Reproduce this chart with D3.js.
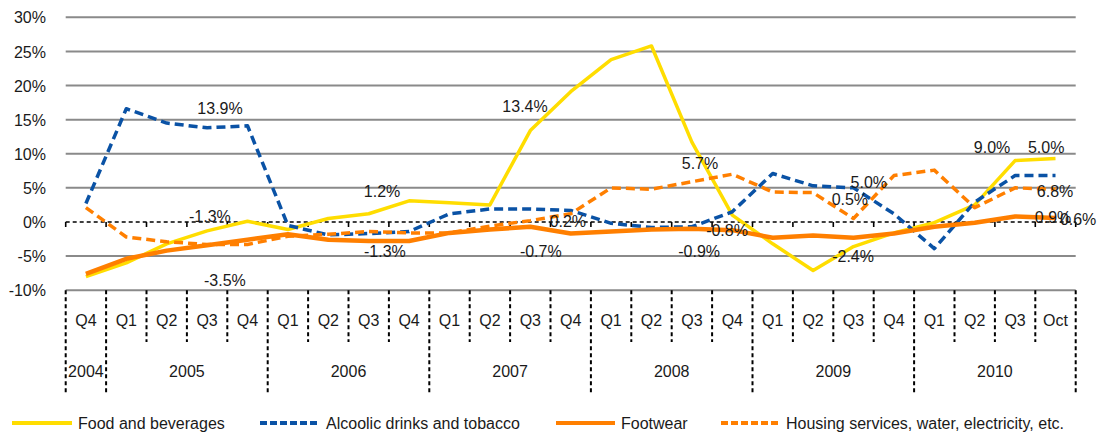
<!DOCTYPE html>
<html>
<head>
<meta charset="utf-8">
<script src="https://cdn.jsdelivr.net/npm/d3@7"></script>
<style>
  html, body { margin: 0; padding: 0; background: #fff; }
  svg { display: block; font-family: "Liberation Sans", Arial, Helvetica, sans-serif; }
</style>
</head>
<body>
<svg id="chart" width="1099" height="434"></svg>
<script>
// ---------- data ----------
const categories = [
  "2004 Q4",
  "2005 Q1","2005 Q2","2005 Q3","2005 Q4",
  "2006 Q1","2006 Q2","2006 Q3","2006 Q4",
  "2007 Q1","2007 Q2","2007 Q3","2007 Q4",
  "2008 Q1","2008 Q2","2008 Q3","2008 Q4",
  "2009 Q1","2009 Q2","2009 Q3","2009 Q4",
  "2010 Q1","2010 Q2","2010 Q3","2010 Oct"
];
const periodLabels = [
  "Q4",
  "Q1","Q2","Q3","Q4",
  "Q1","Q2","Q3","Q4",
  "Q1","Q2","Q3","Q4",
  "Q1","Q2","Q3","Q4",
  "Q1","Q2","Q3","Q4",
  "Q1","Q2","Q3","Oct"
];
const years = ["2004","2005","2006","2007","2008","2009","2010"];
const yearCounts = [1,4,4,4,4,4,4];

const seriesNames = [
  "Food and beverages",
  "Alcoolic drinks and tobacco",
  "Footwear",
  "Housing services, water, electricity, etc."
];
const food = [-8.0, -6.0,-3.2,-1.3,0.1, -1.1,0.5,1.2,3.1, 2.8,2.5,13.4,19.1, 23.8,25.8,11.7,1.0, -3.2,-7.1,-3.6,-1.6, -0.1,2.5,9.0,9.3];
const alcohol = [2.7, 16.6,14.5,13.8,14.1, -0.5,-1.9,-1.7,-1.4, 1.2,1.9,1.9,1.7, -0.2,-0.8,-0.7,1.5, 7.1,5.3,5.0,1.2, -3.9,2.9,6.8,6.8];
const footwear = [-7.6, -5.4,-4.2,-3.4,-2.6, -1.8,-2.6,-2.8,-2.8, -1.6,-1.1,-0.7,-1.7, -1.4,-1.1,-1.0,-1.2, -2.3,-2.0,-2.3,-1.7, -0.7,-0.1,0.8,0.6];
const housing = [2.1, -2.2,-2.9,-3.3,-3.3, -2.1,-1.8,-1.4,-1.6, -1.6,-0.6,0.2,1.2, 5.0,4.8,5.9,7.0, 4.4,4.3,0.5,6.8, 7.6,2.1,5.0,4.8];

const yTicks = [-10,-5,0,5,10,15,20,25,30];

// data labels: text, anchor in category-index units and value units
const labelTexts  = ["13.9%","-1.3%","-3.5%","1.2%","-1.3%","13.4%","-0.7%","0.2%","5.7%","-0.9%","-0.8%","5.0%","0.5%","-2.4%","9.0%","5.0%","6.8%","0.9%","0.6%"];
const labelIdx    = [3.32, 3.07, 3.44, 7.33, 7.40, 10.87, 11.26, 11.93, 15.20, 15.18, 15.87, 19.38, 18.91, 18.99, 22.43, 23.77, 23.99, 23.94, 24.56];
const labelVal    = [16.67, 0.84, -8.5, 4.5, -4.29, 16.96, -4.29, 0.1, 8.61, -4.29, -1.21, 5.87, 3.33, -5.02, 11.0, 11.0, 4.55, 0.74, 0.40];

// ---------- layout ----------
const svg = d3.select("#chart");
const pLeft = 65.7, pRight = 1075.7, pTop = 17.3, pBottom = 290.2;
const colors = ["#FFDD00", "#0A52A5", "#FF7F00", "#FF7F00"];
const dashes = [null, "9,5", null, "9,5"];
const widths = [3.5, 3.5, 4.5, 3.5];

const x = d3.scaleBand().domain(categories).range([pLeft, pRight]).padding(0);
const y = d3.scaleLinear().domain([-10, 30]).range([pBottom, pTop]);
const xIdx = d3.scaleLinear().domain([0, 1]).range([pLeft + x.bandwidth()/2, pLeft + x.bandwidth()*1.5]);
const font = 16;

// gridlines
svg.append("g").selectAll("line").data(yTicks.filter(d => d !== 0)).join("line")
  .attr("x1", pLeft).attr("x2", pRight)
  .attr("y1", d => y(d)).attr("y2", d => y(d))
  .attr("stroke", "#8a8a8a").attr("stroke-width", 2);

// y tick labels
const yAxis = d3.axisLeft(y).tickValues(yTicks).tickFormat(d => d + "%").tickSize(0).tickPadding(0);
const gy = svg.append("g").attr("transform", `translate(46,0)`).call(yAxis);
gy.select(".domain").remove();
gy.selectAll("text").attr("font-size", font).attr("fill", "#1a1a1a")
  .attr("font-family", "Liberation Sans, Arial, sans-serif").attr("dy", "0.35em");

// zero line (dashed) + small ticks
svg.append("line").attr("x1", pLeft).attr("x2", pRight).attr("y1", y(0)).attr("y2", y(0))
  .attr("stroke", "#000").attr("stroke-width", 1.6).attr("stroke-dasharray", "4,3");
const boundaries = d3.range(categories.length + 1).map(i => pLeft + i * x.bandwidth());
svg.append("g").selectAll("line").data(boundaries).join("line")
  .attr("x1", d => d).attr("x2", d => d)
  .attr("y1", y(0)).attr("y2", y(0) + 5)
  .attr("stroke", "#000").attr("stroke-width", 1.6);

// bottom category axis
const yearStarts = [0];
yearCounts.forEach((c, i) => yearStarts.push(yearStarts[i] + c));
svg.append("g").selectAll("line").data(boundaries.map((b, i) => ({b, i}))).join("line")
  .attr("x1", d => d.b).attr("x2", d => d.b)
  .attr("y1", pBottom).attr("y2", d => yearStarts.includes(d.i) ? 393 : 342)
  .attr("stroke", "#000").attr("stroke-width", 2).attr("stroke-dasharray", "4,3");

svg.append("g").selectAll("text").data(categories).join("text")
  .attr("x", d => x(d) + x.bandwidth()/2).attr("y", 320)
  .attr("text-anchor", "middle").attr("dy", "0.35em")
  .attr("font-size", font).attr("fill", "#1a1a1a")
  .text((d, i) => periodLabels[i]);

svg.append("g").selectAll("text").data(years).join("text")
  .attr("x", (d, i) => pLeft + (yearStarts[i] + yearCounts[i] / 2) * x.bandwidth())
  .attr("y", 371).attr("text-anchor", "middle").attr("dy", "0.35em")
  .attr("font-size", font).attr("fill", "#1a1a1a")
  .text(d => d);

// series lines
const allSeries = [food, alcohol, footwear, housing];
const line = d3.line().x((d, i) => x(categories[i]) + x.bandwidth()/2).y(d => y(d));
allSeries.forEach((s, k) => {
  svg.append("path").datum(s)
    .attr("d", line)
    .attr("fill", "none")
    .attr("stroke", colors[k])
    .attr("stroke-width", widths[k])
    .attr("stroke-linejoin", "round")
    .attr("stroke-dasharray", dashes[k]);
});

// data labels
svg.append("g").selectAll("text").data(labelTexts).join("text")
  .attr("x", (d, i) => xIdx(labelIdx[i]))
  .attr("y", (d, i) => y(labelVal[i]))
  .attr("text-anchor", "middle").attr("dy", "0.35em")
  .attr("font-size", font).attr("fill", "#1a1a1a")
  .text(d => d);

// legend
const legendLineX = [[12, 72], [260, 317], [556, 615], [721, 780]];
const legendTextX = [78, 326, 621, 786];
const legendY = 423;
seriesNames.forEach((name, k) => {
  svg.append("line")
    .attr("x1", legendLineX[k][0]).attr("x2", legendLineX[k][1])
    .attr("y1", legendY).attr("y2", legendY)
    .attr("stroke", colors[k]).attr("stroke-width", 4)
    .attr("stroke-dasharray", dashes[k] ? "7,3" : null);
  svg.append("text")
    .attr("x", legendTextX[k]).attr("y", legendY).attr("dy", "0.35em")
    .attr("font-size", font).attr("fill", "#1a1a1a")
    .text(name);
});
</script>
</body>
</html>
